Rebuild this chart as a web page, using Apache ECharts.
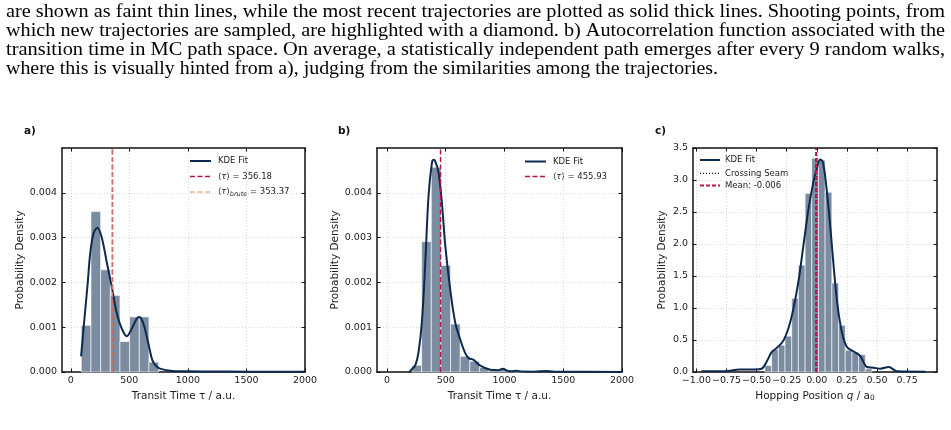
<!DOCTYPE html>
<html>
<head>
<meta charset="utf-8">
<script src="https://cdn.jsdelivr.net/npm/echarts@6/dist/echarts.min.js"></script>
<style>
  html, body { margin: 0; padding: 0; background: #fff; }
  #chart { width: 951px; height: 430px; }
</style>
</head>
<body>
<div id="chart"></div>
<script>
  // caption text above the figure
  const captionLines = [
    'are shown as faint thin lines, while the most recent trajectories are plotted as solid thick lines. Shooting points, from',
    'which new trajectories are sampled, are highlighted with a diamond. b) Autocorrelation function associated with the',
    'transition time in MC path space. On average, a statistically independent path emerges after every 9 random walks,',
    'where this is visually hinted from a), judging from the similarities among the trajectories.'
  ]

  // panel a: transit time histogram + KDE
  const histAEdges = [90, 172.5, 255, 337.5, 420, 502.5, 585, 667.5, 750]
  const histAHeights = [0.00104, 0.00358, 0.00228, 0.00171, 0.00068, 0.00123, 0.00123, 0.00022]
  const kdeAX = [88, 105, 123, 145, 166, 194, 227, 264, 307, 350, 393, 435, 478, 521, 563, 586, 620, 662, 697, 730, 762, 848, 1000, 1200, 1500, 1800, 2000]
  const kdeAY = [0.00035, 0.00085, 0.00137, 0.0020, 0.00265, 0.00309, 0.00322, 0.00301, 0.00245, 0.00190, 0.00131, 0.00097, 0.00080, 0.00097, 0.00119, 0.00123, 0.00108, 0.00064, 0.00026, 0.00013, 0.000075, 0.00003, 0.000015, 0.00001, 0.000008, 0.000006, 0.000005]
  const meanA = 356.18
  const meanABrute = 353.37

  // panel b: transit time histogram + KDE
  const histBEdges = [213, 295, 377, 459, 541, 623, 705, 787, 869, 951, 1033, 1115, 1197, 1279]
  const histBHeights = [0.00015, 0.00291, 0.00457, 0.00238, 0.00107, 0.00035, 0.00024, 0.00010, 0.00005, 0.00006, 0.00003, 0.00002, 0.00001]
  const kdeBX = [190, 210, 241, 269, 298, 326, 354, 383, 397, 411, 439, 468, 496, 539, 581, 624, 666, 695, 737, 794, 879, 950, 985, 1020, 1060, 1100, 1150, 1250, 1360, 1450, 2000]
  const kdeBY = [0, 0.00006, 0.00015, 0.00045, 0.00115, 0.00245, 0.00395, 0.00468, 0.00474, 0.00470, 0.00445, 0.00375, 0.00282, 0.00182, 0.00110, 0.00072, 0.00042, 0.00031, 0.00027, 0.00014, 0.00005, 0.00004, 0.000075, 0.00003, 0.000015, 0.00003, 0.00001, 0.000008, 0.00002, 0.000005, 0.000002]
  const meanB = 455.93

  // panel c: hopping position histogram + KDE
  const histCEdges = [-0.431, -0.375, -0.319, -0.264, -0.208, -0.153, -0.097, -0.042, 0.014, 0.069, 0.125, 0.181, 0.236, 0.292, 0.347, 0.403, 0.458]
  const histCHeights = [0.10, 0.35, 0.42, 0.56, 1.15, 1.67, 2.79, 3.34, 3.31, 2.81, 1.39, 0.73, 0.34, 0.31, 0.27, 0.05]
  const kdeCX = [-0.958, -0.778, -0.639, -0.514, -0.458, -0.417, -0.375, -0.333, -0.278, -0.236, -0.194, -0.153, -0.111, -0.069, -0.028, 0.0, 0.0275, 0.05, 0.078, 0.111, 0.139, 0.172, 0.208, 0.25, 0.306, 0.361, 0.417, 0.472, 0.528, 0.597, 0.667, 0.903]
  const kdeCY = [0.01, 0.01, 0.04, 0.04, 0.05, 0.16, 0.31, 0.375, 0.49, 0.68, 0.99, 1.41, 1.98, 2.55, 2.97, 3.18, 3.32, 3.28, 2.92, 2.29, 1.67, 1.04, 0.625, 0.39, 0.32, 0.25, 0.078, 0.068, 0.052, 0.078, 0.01, 0.005]
  const seamC = 0
  const meanC = -0.006

  // tick values
  const ticksTimeX = [0, 500, 1000, 1500, 2000]
  const ticksDensY = [0, 0.001, 0.002, 0.003, 0.004]
  const ticksPosX = [-1, -0.75, -0.5, -0.25, 0, 0.25, 0.5, 0.75]
  const ticksPosY = [0, 0.5, 1, 1.5, 2, 2.5, 3, 3.5]

  const FONT = 'DejaVu Sans'
  const INK = '#111'
  const BAR = '#7b8ba0'
  const KDE = '#0c2a4f'
  const RED = '#b3164b'
  const TAN = '#d9a06a'

  const chart = echarts.init(document.getElementById('chart'), null, { renderer: 'canvas' })

  const lineAxis = { onZero: false, lineStyle: { color: INK, width: 1.5 } }
  const grid = { show: true, lineStyle: { color: '#cfcfcf', width: 0.8, type: [1, 2] } }

  function makeX (gi, min, max, ticks, fmt, name, rich) {
    const tick = { inside: true, length: 3.5, customValues: ticks, lineStyle: { color: INK, width: 1 } }
    return [{
      type: 'value', gridIndex: gi, position: 'bottom', min, max,
      axisLine: lineAxis, axisTick: tick, splitLine: grid,
      axisLabel: { customValues: ticks, formatter: fmt, margin: 3.5, fontSize: 9.5, color: '#222', fontFamily: FONT, hideOverlap: false },
      name, nameLocation: 'middle', nameGap: 16.5,
      nameTextStyle: { fontSize: 10.5, color: '#222', fontFamily: FONT, rich }
    }, {
      type: 'value', gridIndex: gi, position: 'top', min, max,
      axisLine: lineAxis, axisTick: tick, splitLine: { show: false }, axisLabel: { show: false }
    }]
  }

  function makeY (gi, min, max, ticks, fmt, gap) {
    const tick = { inside: true, length: 3.5, customValues: ticks, lineStyle: { color: INK, width: 1 } }
    return [{
      type: 'value', gridIndex: gi, position: 'left', min, max,
      axisLine: lineAxis, axisTick: tick, splitLine: grid,
      axisLabel: { customValues: ticks, formatter: fmt, margin: 5, fontSize: 9.5, color: '#222', fontFamily: FONT, hideOverlap: false },
      name: 'Probability Density', nameLocation: 'middle', nameGap: gap,
      nameTextStyle: { fontSize: 10.5, color: '#222', fontFamily: FONT }
    }, {
      type: 'value', gridIndex: gi, position: 'right', min, max,
      axisLine: lineAxis, axisTick: tick, splitLine: { show: false }, axisLabel: { show: false }
    }]
  }

  function histSeries (ax, edges, heights) {
    const data = heights.map((h, i) => [edges[i], edges[i + 1], h])
    return {
      type: 'custom', xAxisIndex: ax, yAxisIndex: ax, data, encode: { x: [0, 1], y: 2 }, z: 2,
      renderItem (params, api) {
        const p0 = api.coord([api.value(0), 0])
        const p1 = api.coord([api.value(1), api.value(2)])
        return {
          type: 'rect',
          shape: { x: p0[0], y: p1[1], width: p1[0] - p0[0], height: p0[1] - p1[1] },
          style: { fill: BAR, stroke: '#fff', lineWidth: 0.6 }
        }
      }
    }
  }

  function kdeSeries (ax, xs, ys) {
    return {
      type: 'line', xAxisIndex: ax, yAxisIndex: ax, z: 3,
      data: xs.map((x, i) => [x, ys[i]]), smooth: 0.35, showSymbol: false,
      lineStyle: { color: KDE, width: 2 }
    }
  }

  function vline (ax, x, top, color, width, dash, opacity) {
    return {
      type: 'line', xAxisIndex: ax, yAxisIndex: ax, z: 4,
      data: [[x, 0], [x, top]], showSymbol: false,
      lineStyle: { color, width, type: dash, opacity: opacity || 1 }
    }
  }

  const fmt3 = v => v.toFixed(3)
  const fmt1 = v => v.toFixed(1)
  const fmtPos = v => (v < 0 ? '\u2212' : '') + Math.abs(v).toFixed(2)

  const xA = makeX(0, -75, 2000, ticksTimeX, v => String(v), 'Transit Time \u03c4 / a.u.')
  const xB = makeX(1, -85, 2000, ticksTimeX, v => String(v), 'Transit Time \u03c4 / a.u.')
  const xC = makeX(2, -1.028, 0.998, ticksPosX, fmtPos, '{n|Hopping Position }{i|q}{n| / a}{s|0}', {
    n: { fontSize: 10.5, fontFamily: FONT, color: '#222' },
    i: { fontSize: 10.5, fontFamily: FONT, color: '#222', fontStyle: 'italic' },
    s: { fontSize: 7.5, fontFamily: FONT, color: '#222', verticalAlign: 'bottom', padding: [4, 0, 0, 0] }
  })
  const yA = makeY(0, 0, 0.005, ticksDensY, fmt3, 36.5)
  const yB = makeY(1, 0, 0.005, ticksDensY, fmt3, 36.5)
  const yC = makeY(2, 0, 3.5, ticksPosY, fmt1, 25)

  // x axis indices: 0,1 a; 2,3 b; 4,5 c (bottom ones used for data)
  const series = [
    histSeries(0, histAEdges, histAHeights),
    kdeSeries(0, kdeAX, kdeAY),
    vline(0, meanA, 0.005, RED, 1.5, [5, 2.5]),
    vline(0, meanABrute, 0.005, TAN, 1.5, [5, 2.5], 0.75),
    histSeries(2, histBEdges, histBHeights),
    kdeSeries(2, kdeBX, kdeBY),
    vline(2, meanB, 0.005, RED, 1.5, [5, 2.5]),
    histSeries(4, histCEdges, histCHeights),
    kdeSeries(4, kdeCX, kdeCY),
    vline(4, seamC, 3.5, INK, 1.2, [1, 2]),
    vline(4, meanC, 3.5, RED, 2, [4, 2])
  ]

  // caption fitted to the page width
  const ctx = document.createElement('canvas').getContext('2d')
  const capFont = '19px "Liberation Serif"'
  ctx.font = capFont
  const capWidths = [939, 939, 939, 712]
  const capY = [12, 31, 50, 69]
  const caption = captionLines.map((t, i) => ({
    type: 'text', x: 6, y: capY[i], scaleX: capWidths[i] / ctx.measureText(t).width,
    style: { text: t, font: capFont, fill: '#000', textVerticalAlign: 'middle' }
  }))

  function legLine (x1, x2, y, color, width, dash, opacity) {
    return {
      type: 'line', shape: { x1, y1: y, x2, y2: y },
      style: { stroke: color, lineWidth: width, lineDash: dash || null, opacity: opacity || 1 }
    }
  }
  const legRich = {
    n: { fontSize: 8.5, fontFamily: FONT, fill: '#222' },
    i: { fontSize: 8.5, fontFamily: FONT, fill: '#222', fontStyle: 'italic' },
    s: { fontSize: 6.5, fontFamily: FONT, fill: '#222', fontStyle: 'italic', verticalAlign: 'bottom', padding: [5, 0, 0, 0] }
  }
  function legText (x, y, text) {
    return {
      type: 'text', x, y,
      style: { text, rich: legRich, font: '8.5px "DejaVu Sans"', fill: '#222', textVerticalAlign: 'middle' }
    }
  }

  const legends = [
    legLine(190, 211, 161, KDE, 2),
    legText(218, 161, '{n|KDE Fit}'),
    legLine(190, 211, 176.5, RED, 1.5, [5, 2.5]),
    legText(218, 176.5, '{n|\u27e8}{i|\u03c4}{n|\u27e9 = ' + meanA.toFixed(2) + '}'),
    legLine(190, 211, 192, TAN, 1.5, [5, 2.5], 0.75),
    legText(218, 192, '{n|\u27e8}{i|\u03c4}{n|\u27e9}{s|brute}{n| = ' + meanABrute.toFixed(2) + '}'),

    legLine(525, 546, 161.5, KDE, 2),
    legText(553, 161.5, '{n|KDE Fit}'),
    legLine(525, 546, 176.5, RED, 1.5, [5, 2.5]),
    legText(553, 176.5, '{n|\u27e8}{i|\u03c4}{n|\u27e9 = ' + meanB.toFixed(2) + '}'),

    legLine(700, 720, 160, KDE, 2),
    legText(725, 160, '{n|KDE Fit}'),
    legLine(700, 720, 173.3, INK, 1.2, [1, 2]),
    legText(725, 173.3, '{n|Crossing Seam}'),
    legLine(700, 720, 185.5, RED, 2, [4, 2]),
    legText(725, 185.5, '{n|Mean: ' + meanC.toFixed(3) + '}')
  ]

  const panelLabels = [['a)', 24], ['b)', 338], ['c)', 655]].map(([t, x]) => ({
    type: 'text', x, y: 131,
    style: { text: t, font: 'bold 10.5px "DejaVu Sans"', fill: '#111', textVerticalAlign: 'middle' }
  }))

  chart.setOption({
    animation: false,
    backgroundColor: '#fff',
    grid: [
      { left: 62, top: 148, width: 243, height: 224 },
      { left: 377, top: 148, width: 245, height: 224 },
      { left: 693, top: 148, width: 244, height: 224 }
    ],
    xAxis: [...xA, ...xB, ...xC],
    yAxis: [...yA, ...yB, ...yC],
    series,
    graphic: [...caption, ...legends, ...panelLabels]
  })
</script>
</body>
</html>
